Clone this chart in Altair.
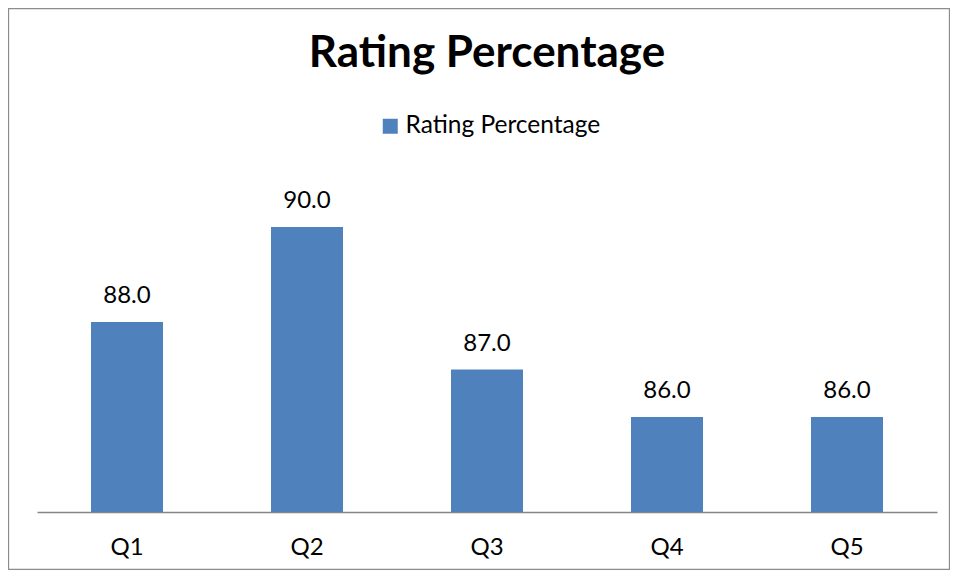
import altair as alt
import pandas as pd

categories = ["Q1", "Q2", "Q3", "Q4", "Q5"]
values = [88.0, 90.0, 87.0, 86.0, 86.0]
series_name = "Rating Percentage"

df = pd.DataFrame({"Question": categories, "Rating": values, "Series": [series_name] * len(categories)})

FONT = "Lato"
BLUE = "#4F81BD"

x_enc = alt.X("Question:N", sort=categories,
              scale=alt.Scale(paddingInner=0.6, paddingOuter=0.3),
              axis=alt.Axis(title=None, labelAngle=0, ticks=False, labelPadding=23,
                            labelFontSize=24, labelFont=FONT, labelColor="#000000",
                            domainColor="#868686", domainWidth=1.3))
y_scale = alt.Scale(domain=[84, 92], nice=False, zero=False)

bars = alt.Chart(df).mark_bar(clip=True).encode(
    x=x_enc,
    y=alt.Y("Rating:Q", scale=y_scale, axis=None),
    color=alt.Color("Series:N", scale=alt.Scale(range=[BLUE]),
                    legend=alt.Legend(title=None, orient="none", legendX=341, legendY=-18,
                                      symbolType="square", symbolSize=225, symbolStrokeWidth=0,
                                      labelFontSize=24.5, labelFont=FONT, labelColor="#000000",
                                      labelOffset=3, labelLimit=400)),
)

labels = alt.Chart(df).mark_text(baseline="alphabetic", dy=-19, fontSize=24, font=FONT, color="#000000").encode(
    x=alt.X("Question:N", sort=categories),
    y=alt.Y("Rating:Q", scale=y_scale),
    text=alt.Text("Rating:Q", format=".1f"),
)

border = alt.Chart(pd.DataFrame({"b": [0]})).mark_rect(fill=None, stroke="#8c8c8c", strokeWidth=1.3).encode(
    x=alt.value(-28.5), x2=alt.value(912.5), y=alt.value(-123.5), y2=alt.value(437.5)
)

chart = alt.layer(border, bars, labels).properties(
    width=900, height=380,
    title=alt.TitleParams(series_name, fontSize=44, font=FONT, fontWeight="bold", color="#000000",
                          anchor="middle", frame="group", offset=0, dy=103, baseline="alphabetic"),
    autosize=alt.AutoSizeParams(type="none"),
    padding={"left": 29, "top": 124, "right": 13, "bottom": 58},
).configure(background="white").configure_view(stroke=None)

chart.save("out.html", embed_options={"renderer": "svg", "actions": False})
